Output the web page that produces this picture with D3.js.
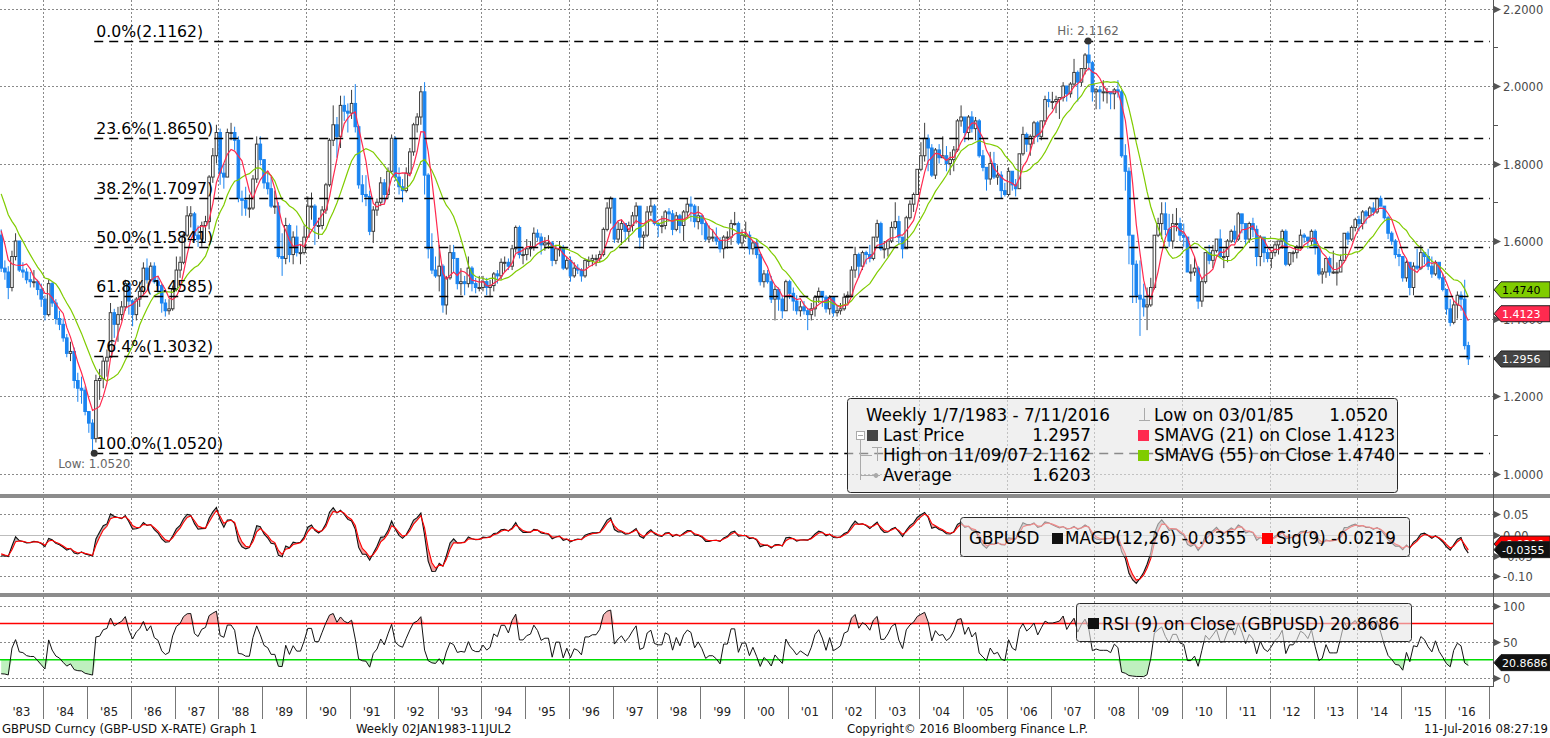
<!DOCTYPE html>
<html>
<head>
<meta charset="utf-8">
<script src="https://d3js.org/d3.v7.min.js"></script>
<style>
body { margin: 0; background: #fff; }
svg { display: block; font-family: "DejaVu Sans", sans-serif; }
</style>
</head>
<body>
<svg id="chart" width="1550" height="738"></svg>
<script>
// monthly GBPUSD (Jan 1983 .. Jul 2016)
// closes Dec 1981 .. Dec 1982, only used to warm up the moving averages
const warmup = [1.910, 1.875, 1.825, 1.780, 1.775, 1.805, 1.730, 1.740, 1.715, 1.700, 1.680, 1.610, 1.615];

const closes = [
    1.530, 1.520, 1.480, 1.560, 1.600, 1.525, 1.520, 1.500, 1.495, 1.495, 1.475, 1.450,
    1.410, 1.490, 1.440, 1.400, 1.385, 1.350, 1.310, 1.315, 1.240, 1.220, 1.215, 1.160,
    1.130, 1.090, 1.240, 1.245, 1.290, 1.300, 1.415, 1.385, 1.410, 1.430, 1.490, 1.445,
    1.410, 1.450, 1.470, 1.530, 1.500, 1.535, 1.495, 1.485, 1.440, 1.420, 1.425, 1.475,
    1.525, 1.545, 1.615, 1.665, 1.670, 1.615, 1.605, 1.640, 1.650, 1.765, 1.820, 1.880,
    1.775, 1.765, 1.880, 1.880, 1.860, 1.710, 1.705, 1.685, 1.685, 1.760, 1.850, 1.810,
    1.750, 1.735, 1.690, 1.690, 1.560, 1.555, 1.640, 1.565, 1.610, 1.570, 1.570, 1.610,
    1.690, 1.690, 1.640, 1.640, 1.680, 1.745, 1.860, 1.900, 1.870, 1.950, 1.935, 1.930,
    1.955, 1.895, 1.745, 1.720, 1.715, 1.625, 1.680, 1.700, 1.750, 1.720, 1.780, 1.865,
    1.765, 1.740, 1.730, 1.775, 1.830, 1.900, 1.920, 1.985, 1.770, 1.580, 1.525, 1.510,
    1.535, 1.435, 1.505, 1.570, 1.555, 1.490, 1.495, 1.490, 1.530, 1.490, 1.480, 1.480,
    1.495, 1.480, 1.485, 1.515, 1.510, 1.545, 1.545, 1.535, 1.580, 1.635, 1.565, 1.565,
    1.580, 1.585, 1.620, 1.610, 1.590, 1.595, 1.595, 1.550, 1.580, 1.580, 1.530, 1.550,
    1.510, 1.530, 1.525, 1.510, 1.550, 1.550, 1.555, 1.555, 1.565, 1.630, 1.685, 1.710,
    1.605, 1.630, 1.645, 1.625, 1.640, 1.665, 1.690, 1.610, 1.615, 1.675, 1.690, 1.645,
    1.640, 1.640, 1.675, 1.670, 1.630, 1.665, 1.640, 1.675, 1.695, 1.690, 1.650, 1.665,
    1.645, 1.605, 1.610, 1.610, 1.600, 1.580, 1.610, 1.610, 1.645, 1.645, 1.595, 1.615,
    1.615, 1.580, 1.595, 1.565, 1.495, 1.515, 1.495, 1.450, 1.475, 1.450, 1.420, 1.495,
    1.465, 1.445, 1.420, 1.430, 1.420, 1.410, 1.425, 1.455, 1.470, 1.455, 1.425, 1.455,
    1.415, 1.420, 1.425, 1.455, 1.460, 1.525, 1.565, 1.535, 1.570, 1.565, 1.555, 1.610,
    1.645, 1.580, 1.580, 1.600, 1.635, 1.650, 1.610, 1.580, 1.660, 1.695, 1.720, 1.785,
    1.820, 1.865, 1.840, 1.770, 1.835, 1.815, 1.820, 1.800, 1.810, 1.835, 1.910, 1.920,
    1.880, 1.920, 1.890, 1.910, 1.820, 1.790, 1.760, 1.800, 1.765, 1.770, 1.730, 1.720,
    1.780, 1.745, 1.735, 1.825, 1.875, 1.850, 1.870, 1.905, 1.870, 1.910, 1.965, 1.960,
    1.960, 1.965, 1.970, 2.000, 1.980, 2.005, 2.035, 2.010, 2.045, 2.080, 2.060, 1.985,
    1.990, 1.985, 1.985, 1.985, 1.980, 1.990, 1.985, 1.820, 1.780, 1.615, 1.540, 1.460,
    1.450, 1.430, 1.435, 1.480, 1.615, 1.645, 1.670, 1.630, 1.600, 1.645, 1.645, 1.615,
    1.610, 1.520, 1.520, 1.530, 1.445, 1.495, 1.570, 1.550, 1.575, 1.605, 1.560, 1.560,
    1.600, 1.625, 1.605, 1.670, 1.645, 1.605, 1.645, 1.630, 1.560, 1.610, 1.570, 1.555,
    1.570, 1.590, 1.600, 1.625, 1.540, 1.570, 1.570, 1.585, 1.615, 1.610, 1.600, 1.625,
    1.585, 1.515, 1.520, 1.555, 1.520, 1.520, 1.520, 1.550, 1.620, 1.605, 1.635, 1.655,
    1.645, 1.675, 1.665, 1.685, 1.675, 1.710, 1.690, 1.660, 1.620, 1.600, 1.565, 1.560,
    1.505, 1.545, 1.480, 1.535, 1.530, 1.570, 1.560, 1.535, 1.515, 1.545, 1.505, 1.475,
    1.425, 1.390, 1.435, 1.460, 1.450, 1.330, 1.2957
];

const highs = [
    1.630, 1.550, 1.535, 1.575, 1.620, 1.600, 1.545, 1.530, 1.520, 1.525, 1.500, 1.490,
    1.460, 1.500, 1.495, 1.450, 1.420, 1.400, 1.360, 1.340, 1.325, 1.260, 1.250, 1.225,
    1.160, 1.140, 1.255, 1.270, 1.300, 1.320, 1.440, 1.425, 1.430, 1.445, 1.500, 1.480,
    1.450, 1.455, 1.495, 1.545, 1.555, 1.545, 1.545, 1.510, 1.490, 1.450, 1.450, 1.485,
    1.560, 1.560, 1.620, 1.690, 1.690, 1.675, 1.640, 1.650, 1.665, 1.770, 1.840, 1.900,
    1.890, 1.800, 1.890, 1.905, 1.895, 1.870, 1.730, 1.740, 1.720, 1.770, 1.870, 1.870,
    1.800, 1.780, 1.765, 1.730, 1.700, 1.620, 1.660, 1.645, 1.625, 1.640, 1.590, 1.640,
    1.715, 1.725, 1.695, 1.660, 1.690, 1.750, 1.865, 1.950, 1.920, 1.975, 1.975, 1.955,
    1.990, 2.005, 1.900, 1.770, 1.770, 1.730, 1.690, 1.710, 1.765, 1.760, 1.790, 1.875,
    1.870, 1.790, 1.760, 1.790, 1.840, 1.905, 1.930, 2.000, 2.010, 1.775, 1.620, 1.560,
    1.590, 1.540, 1.510, 1.590, 1.590, 1.555, 1.530, 1.510, 1.560, 1.535, 1.505, 1.510,
    1.510, 1.505, 1.500, 1.520, 1.525, 1.555, 1.560, 1.555, 1.590, 1.640, 1.640, 1.585,
    1.605, 1.600, 1.635, 1.630, 1.620, 1.610, 1.615, 1.600, 1.590, 1.600, 1.590, 1.560,
    1.560, 1.545, 1.540, 1.530, 1.555, 1.560, 1.565, 1.565, 1.575, 1.635, 1.700, 1.715,
    1.710, 1.650, 1.655, 1.645, 1.650, 1.675, 1.700, 1.690, 1.625, 1.690, 1.710, 1.695,
    1.650, 1.665, 1.680, 1.685, 1.680, 1.675, 1.670, 1.680, 1.710, 1.715, 1.695, 1.690,
    1.665, 1.650, 1.640, 1.630, 1.635, 1.610, 1.615, 1.625, 1.655, 1.675, 1.650, 1.630,
    1.650, 1.625, 1.600, 1.605, 1.570, 1.525, 1.525, 1.510, 1.485, 1.480, 1.460, 1.500,
    1.500, 1.480, 1.460, 1.445, 1.445, 1.425, 1.440, 1.460, 1.480, 1.470, 1.460, 1.460,
    1.450, 1.435, 1.440, 1.465, 1.470, 1.535, 1.585, 1.570, 1.575, 1.575, 1.590, 1.610,
    1.655, 1.650, 1.600, 1.600, 1.650, 1.700, 1.665, 1.610, 1.665, 1.705, 1.725, 1.785,
    1.855, 1.905, 1.875, 1.850, 1.840, 1.850, 1.870, 1.845, 1.830, 1.845, 1.915, 1.950,
    1.910, 1.925, 1.935, 1.920, 1.915, 1.835, 1.790, 1.830, 1.830, 1.795, 1.780, 1.750,
    1.790, 1.780, 1.760, 1.825, 1.895, 1.880, 1.875, 1.910, 1.910, 1.910, 1.975, 1.985,
    1.985, 1.975, 1.970, 2.010, 2.000, 2.010, 2.070, 2.040, 2.045, 2.085, 2.116, 2.065,
    1.995, 2.000, 2.015, 1.995, 1.985, 1.995, 2.015, 1.990, 1.850, 1.790, 1.600, 1.550,
    1.550, 1.490, 1.480, 1.505, 1.615, 1.660, 1.700, 1.700, 1.670, 1.670, 1.685, 1.660,
    1.645, 1.610, 1.540, 1.560, 1.535, 1.505, 1.570, 1.590, 1.590, 1.600, 1.630, 1.580,
    1.605, 1.630, 1.640, 1.675, 1.670, 1.645, 1.650, 1.660, 1.640, 1.615, 1.610, 1.580,
    1.575, 1.600, 1.600, 1.630, 1.630, 1.570, 1.575, 1.590, 1.630, 1.620, 1.610, 1.630,
    1.630, 1.585, 1.530, 1.555, 1.560, 1.575, 1.545, 1.565, 1.620, 1.625, 1.640, 1.660,
    1.665, 1.680, 1.680, 1.690, 1.700, 1.710, 1.717, 1.690, 1.665, 1.625, 1.605, 1.580,
    1.560, 1.550, 1.545, 1.545, 1.580, 1.590, 1.570, 1.580, 1.560, 1.550, 1.535, 1.515,
    1.475, 1.450, 1.445, 1.470, 1.470, 1.500, 1.340
];

const lows = [
    1.520, 1.500, 1.450, 1.470, 1.550, 1.520, 1.505, 1.490, 1.480, 1.480, 1.460, 1.430,
    1.395, 1.405, 1.430, 1.385, 1.370, 1.340, 1.300, 1.290, 1.220, 1.185, 1.180, 1.150,
    1.105, 1.052, 1.080, 1.190, 1.220, 1.250, 1.300, 1.350, 1.340, 1.395, 1.420, 1.410,
    1.380, 1.395, 1.430, 1.460, 1.490, 1.495, 1.490, 1.465, 1.415, 1.405, 1.410, 1.420,
    1.470, 1.505, 1.540, 1.610, 1.635, 1.600, 1.585, 1.585, 1.600, 1.630, 1.750, 1.800,
    1.745, 1.735, 1.765, 1.860, 1.835, 1.700, 1.665, 1.665, 1.660, 1.680, 1.750, 1.795,
    1.735, 1.720, 1.685, 1.670, 1.555, 1.510, 1.540, 1.545, 1.540, 1.560, 1.540, 1.565,
    1.630, 1.655, 1.590, 1.605, 1.630, 1.670, 1.740, 1.845, 1.815, 1.840, 1.910, 1.880,
    1.915, 1.880, 1.735, 1.700, 1.690, 1.615, 1.595, 1.665, 1.690, 1.695, 1.710, 1.775,
    1.755, 1.720, 1.700, 1.725, 1.770, 1.820, 1.880, 1.900, 1.720, 1.555, 1.515, 1.505,
    1.470, 1.415, 1.410, 1.500, 1.520, 1.475, 1.460, 1.460, 1.480, 1.470, 1.465, 1.470,
    1.470, 1.460, 1.455, 1.470, 1.490, 1.500, 1.520, 1.525, 1.525, 1.570, 1.555, 1.540,
    1.550, 1.560, 1.575, 1.600, 1.565, 1.575, 1.580, 1.535, 1.540, 1.560, 1.525, 1.525,
    1.495, 1.505, 1.515, 1.495, 1.505, 1.535, 1.535, 1.535, 1.545, 1.560, 1.625, 1.645,
    1.595, 1.595, 1.590, 1.600, 1.600, 1.625, 1.645, 1.580, 1.580, 1.610, 1.665, 1.640,
    1.610, 1.620, 1.630, 1.650, 1.615, 1.625, 1.620, 1.600, 1.660, 1.650, 1.635, 1.630,
    1.615, 1.600, 1.595, 1.600, 1.590, 1.570, 1.555, 1.580, 1.590, 1.640, 1.590, 1.585,
    1.605, 1.565, 1.565, 1.555, 1.485, 1.480, 1.490, 1.440, 1.395, 1.420, 1.400, 1.420,
    1.450, 1.420, 1.410, 1.405, 1.410, 1.370, 1.395, 1.405, 1.440, 1.430, 1.415, 1.410,
    1.405, 1.405, 1.410, 1.420, 1.440, 1.455, 1.505, 1.505, 1.525, 1.540, 1.545, 1.550,
    1.600, 1.575, 1.555, 1.560, 1.595, 1.630, 1.590, 1.555, 1.580, 1.655, 1.675, 1.720,
    1.780, 1.805, 1.780, 1.765, 1.760, 1.800, 1.815, 1.780, 1.770, 1.780, 1.830, 1.895,
    1.855, 1.860, 1.880, 1.860, 1.815, 1.780, 1.730, 1.745, 1.760, 1.745, 1.710, 1.715,
    1.715, 1.730, 1.715, 1.735, 1.820, 1.830, 1.820, 1.850, 1.855, 1.860, 1.900, 1.945,
    1.940, 1.930, 1.915, 1.960, 1.960, 1.970, 2.000, 1.960, 2.000, 2.030, 2.040, 1.960,
    1.940, 1.940, 1.960, 1.955, 1.940, 1.940, 1.970, 1.815, 1.730, 1.540, 1.440, 1.440,
    1.355, 1.405, 1.370, 1.430, 1.475, 1.610, 1.605, 1.615, 1.585, 1.580, 1.625, 1.600,
    1.585, 1.520, 1.495, 1.510, 1.425, 1.430, 1.490, 1.540, 1.530, 1.570, 1.555, 1.530,
    1.545, 1.595, 1.595, 1.600, 1.620, 1.590, 1.595, 1.610, 1.535, 1.535, 1.545, 1.545,
    1.530, 1.560, 1.565, 1.580, 1.535, 1.535, 1.545, 1.555, 1.580, 1.595, 1.580, 1.590,
    1.565, 1.510, 1.490, 1.505, 1.510, 1.515, 1.485, 1.530, 1.545, 1.590, 1.600, 1.625,
    1.625, 1.630, 1.645, 1.660, 1.665, 1.670, 1.690, 1.655, 1.605, 1.590, 1.555, 1.535,
    1.495, 1.495, 1.460, 1.460, 1.525, 1.525, 1.540, 1.525, 1.505, 1.510, 1.500, 1.470,
    1.410, 1.380, 1.385, 1.400, 1.420, 1.320, 1.280
];

const fibPct = ["0.0%", "23.6%", "38.2%", "50.0%", "61.8%", "76.4%", "100.0%"];
const fibVal = [2.1162, 1.8650, 1.7097, 1.5841, 1.4585, 1.3032, 1.0520];

const hiPoint = {date: "2007-11-09", value: 2.1162};
const loPoint = {date: "1985-03-01", value: 1.0520};

const priceTicks = [1.0, 1.2, 1.4, 1.6, 1.8, 2.0, 2.2];
const priceMinor = [1.1, 1.3, 1.5, 1.7, 1.9, 2.1];
const macdTicks = [0.05, 0.00, -0.05, -0.10];
const rsiTicks = [100, 50, 0];
const rsiBands = [75, 25];

// last values as printed on the chart
const lastSma55 = 1.4740, lastSma21 = 1.4123, lastPx = 1.2956;
const lastMacd = -0.0355, lastSig = -0.0219, lastRsi = 20.8686;

const legendLeft = [
    ["Last Price", "1.2957"],
    ["High on 11/09/07", "2.1162"],
    ["Average", "1.6203"]
];

const W = 1550, AX = 1493;
const BLUE = "#1a84f0", DARK = "#3c3c3c", RED = "#ff2a4f", GREEN = "#80cc00";

let svg = d3.select("#chart");

let x = d3.scaleTime()
    .domain([new Date(1983, 0, 1), new Date(2017, 0, 1)])
    .range([-0.5, 1488.7]);
let yP = d3.scaleLinear().domain([1.0, 2.2]).range([473.5, 8.5]);
let yM = d3.scaleLinear().domain([-0.10, 0.05]).range([576.3, 514.3]);
let yR = d3.scaleLinear().domain([0, 100]).range([677.7, 605.5]);

const pane = {p: [0, 493], m: [498, 592], r: [597, 685]};

// ---- derived series ----
let all = warmup.concat(closes);
let off = warmup.length;
let dates = closes.map((c, i) => new Date(1983, i, 15));

let bars = closes.map((c, i) => {
    let open = all[i + off - 1];
    return {
        date: dates[i], open: open, close: c,
        high: Math.max(highs[i], open, c),
        low: Math.min(lows[i], open, c)
    };
});

// weekly windows turned into months (21w ~ 5m, 55w ~ 13m)
function sma(n) {
    return closes.map((c, i) => d3.mean(all.slice(i + off - n + 1, i + off + 1)));
}
let sma21 = sma(5), sma55 = sma(13);

// weekly EMA spans expressed as monthly smoothing factors
let wk = 52 / 12;
let a12 = 1 - Math.pow(1 - 2 / 13, wk);
let a26 = 1 - Math.pow(1 - 2 / 27, wk);
let a9 = 1 - Math.pow(1 - 2 / 10, wk);
function ema(vals, a) {
    let e = vals[0];
    return vals.map((v, i) => (e = i ? a * v + (1 - a) * e : v));
}
let e12 = ema(all, a12), e26 = ema(all, a26);
let macdAll = all.map((v, i) => e12[i] - e26[i]);
let sigAll = ema(macdAll, a9);
let macd = macdAll.slice(off), sig = sigAll.slice(off);

// Wilder RSI on the monthly closes
let aR = 0.22;
let ag = 0, al = 0, rsiAll = [50];
for (let i = 1; i < all.length; i++) {
    let ch = all[i] - all[i - 1];
    let g = Math.max(ch, 0), l = Math.max(-ch, 0);
    if (i === 1) { ag = g; al = l; }
    else { ag += aR * (g - ag); al += aR * (l - al); }
    rsiAll.push(ag + al > 0 ? 100 * ag / (ag + al) : 50);
}
let rsi = rsiAll.slice(off);

// ---- clip paths ----
let defs = svg.append("defs");
Object.entries(pane).forEach(([k, r]) => {
    defs.append("clipPath").attr("id", "clip-" + k)
        .append("rect").attr("x", 0).attr("y", r[0]).attr("width", AX).attr("height", r[1] - r[0]);
});

// ---- grid ----
let grid = svg.append("g").attr("stroke", "#8a8a8a").attr("stroke-dasharray", "2,2").attr("stroke-width", 1);
let evenYears = d3.range(1984, 2017, 2).map(yr => new Date(yr, 0, 1));
Object.values(pane).forEach(r => {
    grid.selectAll(null).data(evenYears).enter().append("line")
        .attr("x1", d => Math.round(x(d)) + 0.5).attr("x2", d => Math.round(x(d)) + 0.5)
        .attr("y1", r[0]).attr("y2", r[1]);
});
grid.selectAll(null).data(priceTicks).enter().append("line")
    .attr("x1", 0).attr("x2", AX).attr("y1", d => Math.round(yP(d)) + 0.5).attr("y2", d => Math.round(yP(d)) + 0.5);
grid.selectAll(null).data(macdTicks.filter(d => d !== 0)).enter().append("line")
    .attr("x1", 0).attr("x2", AX).attr("y1", d => Math.round(yM(d)) + 0.5).attr("y2", d => Math.round(yM(d)) + 0.5);
grid.selectAll(null).data(rsiTicks).enter().append("line")
    .attr("x1", 0).attr("x2", AX).attr("y1", d => Math.round(yR(d)) + 0.5).attr("y2", d => Math.round(yR(d)) + 0.5);

// ---- price pane ----
let pg = svg.append("g").attr("clip-path", "url(#clip-p)");
let bw = 2.6;
pg.selectAll("line.wick").data(bars).enter().append("line")
    .attr("class", "wick")
    .attr("x1", d => x(d.date)).attr("x2", d => x(d.date))
    .attr("y1", d => yP(d.high)).attr("y2", d => yP(d.low))
    .attr("stroke", d => d.close < d.open ? BLUE : DARK).attr("stroke-width", 1);
pg.selectAll("rect.body").data(bars).enter().append("rect")
    .attr("class", "body")
    .attr("x", d => x(d.date) - bw / 2)
    .attr("y", d => yP(Math.max(d.open, d.close)))
    .attr("width", bw)
    .attr("height", d => Math.max(1, Math.abs(yP(d.open) - yP(d.close))))
    .attr("fill", d => d.close < d.open ? BLUE : "#fff")
    .attr("stroke", d => d.close < d.open ? BLUE : DARK)
    .attr("stroke-width", 1);

let lineP = vals => d3.line().x((d, i) => x(dates[i])).y(d => yP(d))(vals);
pg.append("path").attr("d", lineP(sma55)).attr("fill", "none").attr("stroke", GREEN).attr("stroke-width", 1.2);
pg.append("path").attr("d", lineP(sma21)).attr("fill", "none").attr("stroke", RED).attr("stroke-width", 1.2);

// fibonacci retracement levels
let fibX0 = x(new Date(loPoint.date));
pg.selectAll("line.fib").data(fibVal).enter().append("line")
    .attr("class", "fib")
    .attr("x1", fibX0).attr("x2", 1490)
    .attr("y1", d => Math.round(yP(d)) + 0.5).attr("y2", d => Math.round(yP(d)) + 0.5)
    .attr("stroke", "#000").attr("stroke-width", 1.3).attr("stroke-dasharray", "9,6");
pg.selectAll("text.fib").data(fibVal).enter().append("text")
    .attr("class", "fib")
    .attr("x", fibX0 + 2).attr("y", d => yP(d) - 4)
    .attr("font-size", 15.7).attr("fill", "#000")
    .text((d, i) => `${fibPct[i]}(${d.toFixed(4)})`);

// hi / low markers
[[hiPoint, -1], [loPoint, 1]].forEach(([p, s]) => {
    let px = x(new Date(p.date)), py = yP(p.value);
    svg.append("circle").attr("cx", px).attr("cy", py).attr("r", 3.5).attr("fill", "#333");
    svg.append("text").attr("x", px).attr("y", s < 0 ? py - 6 : py + 15)
        .attr("text-anchor", "middle").attr("font-size", 11.9).attr("fill", "#666")
        .text((s < 0 ? "Hi: " : "Low: ") + p.value.toFixed(4));
});

// ---- MACD pane ----
let mg = svg.append("g").attr("clip-path", "url(#clip-m)");
mg.append("line").attr("x1", 0).attr("x2", AX)
    .attr("y1", Math.round(yM(0)) + 0.5).attr("y2", Math.round(yM(0)) + 0.5)
    .attr("stroke", "#bdbdbd").attr("stroke-width", 1.2);
defs.append("clipPath").attr("id", "sig-above")
    .append("path").attr("d", d3.area().x((d, i) => x(dates[i])).y0(pane.m[0]).y1(d => yM(d))(sig));
defs.append("clipPath").attr("id", "sig-below")
    .append("path").attr("d", d3.area().x((d, i) => x(dates[i])).y0(d => yM(d)).y1(pane.m[1])(sig));
let between = d3.area().x((d, i) => x(dates[i])).y0((d, i) => yM(sig[i])).y1(d => yM(d))(macd);
mg.append("g").attr("clip-path", "url(#sig-above)")
    .append("path").attr("d", between).attr("fill", "#b4b4b4");
mg.append("g").attr("clip-path", "url(#sig-below)")
    .append("path").attr("d", between).attr("fill", "#f2a0a0");
let lineM = vals => d3.line().x((d, i) => x(dates[i])).y(d => yM(d))(vals);
mg.append("path").attr("d", lineM(macd)).attr("fill", "none").attr("stroke", "#111").attr("stroke-width", 1.1);
mg.append("path").attr("d", lineM(sig)).attr("fill", "none").attr("stroke", "#ff0000").attr("stroke-width", 1.1);

// ---- RSI pane ----
let rg = svg.append("g").attr("clip-path", "url(#clip-r)");
rg.append("path")
    .attr("d", d3.area().x((d, i) => x(dates[i])).y0(yR(75)).y1(d => yR(Math.max(d, 75)))(rsi))
    .attr("fill", "#f6b4b4");
rg.append("path")
    .attr("d", d3.area().x((d, i) => x(dates[i])).y0(yR(25)).y1(d => yR(Math.min(d, 25)))(rsi))
    .attr("fill", "#bff0bf");
rg.selectAll("line.band").data(rsiBands).enter().append("line")
    .attr("x1", 0).attr("x2", AX)
    .attr("y1", d => yR(d)).attr("y2", d => yR(d))
    .attr("stroke", d => d > 50 ? "#ff0000" : "#00dd00").attr("stroke-width", 1.5);
rg.append("path")
    .attr("d", d3.line().x((d, i) => x(dates[i])).y(d => yR(d))(rsi))
    .attr("fill", "none").attr("stroke", "#111").attr("stroke-width", 1);

// ---- legends (semi transparent boxes) ----
function box(x0, y0, w, h) {
    svg.append("rect").attr("x", x0 + 0.5).attr("y", y0 + 0.5).attr("width", w).attr("height", h)
        .attr("rx", 3).attr("fill", "#e6e6e6").attr("fill-opacity", 0.6)
        .attr("stroke", "#2a2a2a").attr("stroke-width", 1);
}
function txt(x0, y0, s, anchor) {
    return svg.append("text").attr("x", x0).attr("y", y0).attr("font-size", 16.8)
        .attr("fill", "#000").attr("text-anchor", anchor || "start").text(s);
}
function square(x0, y0, c) {
    svg.append("rect").attr("x", x0).attr("y", y0 - 11).attr("width", 11).attr("height", 11).attr("fill", c);
}

box(847, 398, 550, 94);
txt(866, 421, "Weekly 1/7/1983 - 7/11/2016");
legendLeft.forEach((r, i) => {
    txt(883, 441 + i * 20, r[0]);
    txt(1091, 441 + i * 20, r[1], "end");
});
square(867, 441, "#444");
// tree decorations
let tree = svg.append("g").attr("stroke", "#aaa").attr("fill", "none").attr("stroke-width", 1);
tree.append("rect").attr("x", 856.5).attr("y", 431.5).attr("width", 8).attr("height", 8).attr("fill", "#fff");
tree.append("line").attr("x1", 858).attr("x2", 863).attr("y1", 435.5).attr("y2", 435.5);
tree.append("line").attr("x1", 860.5).attr("x2", 860.5).attr("y1", 440).attr("y2", 480);
tree.append("line").attr("x1", 860).attr("x2", 872).attr("y1", 455.5).attr("y2", 455.5);
tree.append("line").attr("x1", 860).attr("x2", 880).attr("y1", 475.5).attr("y2", 475.5);
tree.append("line").attr("x1", 872).attr("x2", 882).attr("y1", 447.5).attr("y2", 447.5);
tree.append("line").attr("x1", 877.5).attr("x2", 877.5).attr("y1", 447).attr("y2", 461);
tree.append("circle").attr("cx", 876).attr("cy", 475.5).attr("r", 2).attr("fill", "#aaa");
tree.append("line").attr("x1", 1144.5).attr("x2", 1144.5).attr("y1", 408).attr("y2", 420);
tree.append("line").attr("x1", 1139).attr("x2", 1150).attr("y1", 420.5).attr("y2", 420.5);
txt(1154, 421, "Low on 03/01/85");
txt(1388, 421, loPoint.value.toFixed(4), "end");
square(1138, 441, RED);
txt(1154, 441, `SMAVG (21) on Close ${lastSma21.toFixed(4)}`);
square(1138, 461, GREEN);
txt(1154, 461, `SMAVG (55) on Close ${lastSma55.toFixed(4)}`);

box(960, 517, 449, 39);
txt(969, 544, "GBPUSD");
square(1052, 544, "#111");
txt(1065, 544, `MACD(12,26) ${lastMacd.toFixed(4)}`);
square(1262, 544, "#ff0000");
txt(1276, 544, `Sig(9) ${lastSig.toFixed(4)}`);

box(1076, 603, 335, 38);
square(1088, 629, "#111");
txt(1102, 630, `RSI (9) on Close (GBPUSD) ${lastRsi.toFixed(4)}`);

// ---- separators and axes ----
svg.append("rect").attr("x", 0).attr("y", 494).attr("width", W).attr("height", 4).attr("fill", "#8c8c8c");
svg.append("rect").attr("x", 0).attr("y", 593).attr("width", W).attr("height", 4).attr("fill", "#8c8c8c");
svg.append("line").attr("x1", AX + 0.5).attr("x2", AX + 0.5).attr("y1", 0).attr("y2", 686).attr("stroke", "#555");
svg.append("line").attr("x1", 0).attr("x2", AX + 1).attr("y1", 686.5).attr("y2", 686.5).attr("stroke", "#555");

function axisLabels(ticks, scale, fmt) {
    let g = svg.append("g");
    ticks.forEach(t => {
        let ty = Math.round(scale(t)) + 0.5;
        g.append("path").attr("d", `M${AX + 1},${ty - 3.5} L${AX + 8},${ty} L${AX + 1},${ty + 3.5} Z`).attr("fill", "#555");
        g.append("text").attr("x", AX + 10).attr("y", ty).attr("dy", "0.36em")
            .attr("font-size", 11.5).attr("fill", "#4a4a4a").text(fmt(t));
    });
}
axisLabels(priceTicks, yP, d => d.toFixed(4));
axisLabels(macdTicks, yM, d => d.toFixed(2));
axisLabels(rsiTicks, yR, d => String(d));
svg.append("g").selectAll("line").data(priceMinor).enter().append("line")
    .attr("x1", AX).attr("x2", AX + 5)
    .attr("y1", d => Math.round(yP(d)) + 0.5).attr("y2", d => Math.round(yP(d)) + 0.5)
    .attr("stroke", "#555");

// value tags on the right axis
function tag(cy, fill, color, label) {
    let x0 = AX + 1, h = 8;
    svg.append("path")
        .attr("d", `M${x0},${cy} L${x0 + 7},${cy - h} L${W},${cy - h} L${W},${cy + h} L${x0 + 7},${cy + h} Z`)
        .attr("fill", fill).attr("stroke", "#222").attr("stroke-width", 1);
    svg.append("text").attr("x", x0 + 8).attr("y", cy).attr("dy", "0.37em")
        .attr("font-size", 11).attr("fill", color).text(label);
}
tag(yP(lastSma55), GREEN, "#000", lastSma55.toFixed(4));
tag(yP(lastSma21), RED, "#fff", lastSma21.toFixed(4));
tag(yP(lastPx), "#444", "#fff", lastPx.toFixed(4));
tag(yM(lastSig), "#ff0000", "#fff", lastSig.toFixed(4));
tag(yM(lastMacd), "#111", "#fff", lastMacd.toFixed(4));
tag(yR(lastRsi), "#111", "#fff", lastRsi.toFixed(4));

// x axis: year ticks and labels
let years = d3.range(1983, 2017);
svg.append("g").selectAll("line").data(d3.range(1984, 2018)).enter().append("line")
    .attr("x1", d => Math.round(x(new Date(d, 0, 1))) + 0.5)
    .attr("x2", d => Math.round(x(new Date(d, 0, 1))) + 0.5)
    .attr("y1", 687).attr("y2", 719).attr("stroke", "#777");
svg.append("g").selectAll("text").data(years).enter().append("text")
    .attr("x", d => (x(new Date(d, 0, 1)) + x(new Date(d + 1, 0, 1))) / 2)
    .attr("y", 716).attr("text-anchor", "middle").attr("font-size", 11.6).attr("fill", "#222")
    .text(d => "'" + String(d).slice(2));

// footer
let foot = svg.append("g").attr("font-size", 11.7).attr("fill", "#111");
foot.append("text").attr("x", 2).attr("y", 733).text("GBPUSD Curncy (GBP-USD X-RATE) Graph 1");
foot.append("text").attr("x", 356).attr("y", 733).text("Weekly 02JAN1983-11JUL2");
foot.append("text").attr("x", 847).attr("y", 733).text("Copyright\u00a9 2016 Bloomberg Finance L.P.");
foot.append("text").attr("x", 1548).attr("y", 733).attr("text-anchor", "end").text("11-Jul-2016 08:27:19");
</script>
</body>
</html>
